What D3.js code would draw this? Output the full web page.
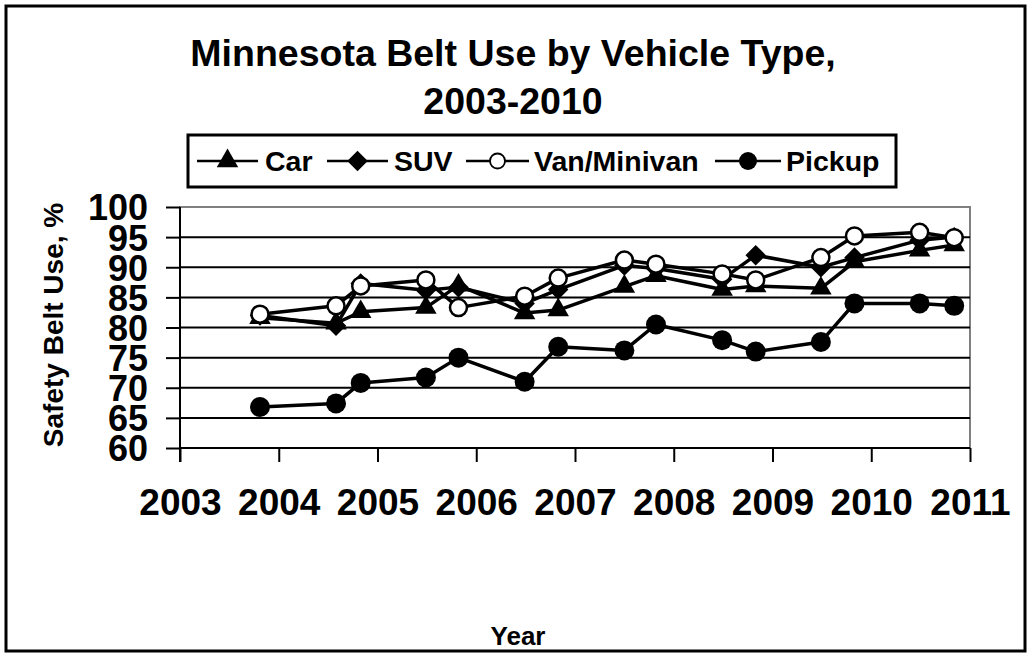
<!DOCTYPE html>
<html>
<head>
<meta charset="utf-8">
<script src="https://cdn.jsdelivr.net/npm/d3@7"></script>
<style>
  body { margin: 0; background: #fff; }
  svg text { font-family: "Liberation Sans", Arial, sans-serif; font-weight: bold; fill: #000; }
</style>
</head>
<body>
<div id="chart"></div>
<script>
// survey dates (decimal years) and belt use by vehicle type
const surveyDates = [2003.81, 2004.58, 2004.83, 2005.49, 2005.82, 2006.49, 2006.83, 2007.5, 2007.82, 2008.49, 2008.83, 2009.49, 2009.83, 2010.49, 2010.84]
const carUse    = [81.6, 80.7, 82.6, 83.3, 87.0, 82.4, 82.9, 86.8, 88.6, 86.3, 86.9, 86.5, 90.9, 92.8, 93.7]
const suvUse    = [82.0, 80.3, 87.3, 86.2, 86.7, 84.0, 86.3, 90.3, 89.8, 88.0, 92.0, 90.0, 91.6, 94.5, 95.0]
const vanUse    = [82.2, 83.6, 86.9, 87.9, 83.3, 85.2, 88.2, 91.2, 90.5, 88.9, 87.9, 91.6, 95.2, 95.8, 94.9]
const pickupUse = [66.8, 67.4, 70.8, 71.7, 75.0, 71.0, 76.8, 76.2, 80.5, 77.9, 76.0, 77.6, 84.0, 84.0, 83.6]
const seriesNames = ["Car", "SUV", "Van/Minivan", "Pickup"]
const xTicks = [2003, 2004, 2005, 2006, 2007, 2008, 2009, 2010, 2011]
const yTicks = [60, 65, 70, 75, 80, 85, 90, 95, 100]

const width = 1030, height = 654
const plot = {left: 180, right: 970, top: 207, bottom: 448}

const svg = d3.select("#chart")
    .append("svg")
    .attr("width", width)
    .attr("height", height)

// outer frame
svg.append("rect")
    .attr("x", 6).attr("y", 6)
    .attr("width", 1019).attr("height", 645)
    .attr("fill", "none")
    .attr("stroke", "#000")
    .attr("stroke-width", 3)

const xScale = d3.scaleLinear().domain([2003, 2011]).range([plot.left, plot.right])
const yScale = d3.scaleLinear().domain([60, 100]).range([plot.bottom, plot.top])

// plot area border (grey)
svg.append("rect")
    .attr("x", plot.left).attr("y", plot.top)
    .attr("width", plot.right - plot.left).attr("height", plot.bottom - plot.top)
    .attr("fill", "none")
    .attr("stroke", "#808080")
    .attr("stroke-width", 2)

// gridlines
svg.append("g")
    .selectAll("line")
    .data(yTicks.filter(d => d > 60 && d < 100))
    .join("line")
    .attr("x1", plot.left).attr("x2", plot.right)
    .attr("y1", d => yScale(d)).attr("y2", d => yScale(d))
    .attr("stroke", "#000")
    .attr("stroke-width", 2)

// axes
const yAxis = svg.append("g")
    .attr("transform", `translate(${plot.left},0)`)
    .call(d3.axisLeft(yScale).tickValues(yTicks).tickSize(14).tickPadding(18).tickFormat(d3.format("d")))
yAxis.select(".domain").attr("d", `M0,${plot.top}V${plot.bottom + 14}`).attr("stroke-width", 2)
yAxis.selectAll(".tick line").attr("stroke-width", 2)
yAxis.selectAll(".tick text").attr("font-size", 36).attr("dy", "0.36em")

const xAxis = svg.append("g")
    .attr("transform", `translate(0,${plot.bottom})`)
    .call(d3.axisBottom(xScale).tickValues(xTicks).tickSize(14).tickPadding(27).tickFormat(d3.format("d")))
xAxis.select(".domain").attr("d", `M${plot.left},0H${plot.right}`).attr("stroke-width", 2)
xAxis.selectAll(".tick line").attr("stroke-width", 2)
xAxis.selectAll(".tick text").attr("font-size", 37)

// axis titles
svg.append("text")
    .attr("transform", "translate(63,325) rotate(-90)")
    .attr("text-anchor", "middle")
    .attr("font-size", 28)
    .text("Safety Belt Use, %")

svg.append("text")
    .attr("x", 518).attr("y", 645)
    .attr("text-anchor", "middle")
    .attr("font-size", 26)
    .text("Year")

// title
svg.append("text")
    .attr("x", 513).attr("y", 66)
    .attr("text-anchor", "middle")
    .attr("font-size", 37.5)
    .text("Minnesota Belt Use by Vehicle Type,")
svg.append("text")
    .attr("x", 513).attr("y", 114)
    .attr("text-anchor", "middle")
    .attr("font-size", 37.5)
    .text("2003-2010")

// marker drawing
function drawMarker(g, kind, small) {
    if (kind === "triangle") {
        g.append("path").attr("d", d3.symbol(d3.symbolTriangle, 200)()).attr("fill", "#000")
    } else if (kind === "diamond") {
        g.append("path").attr("d", d3.symbol(d3.symbolSquare, 210)())
            .attr("transform", "rotate(45)").attr("fill", "#000")
    } else if (kind === "open") {
        g.append("circle").attr("r", small ? 7.5 : 8.5).attr("fill", "#fff")
            .attr("stroke", "#000").attr("stroke-width", small ? 1.8 : 2.5)
    } else {
        g.append("circle").attr("r", small ? 9 : 10).attr("fill", "#000")
    }
}

const series = [
    {name: seriesNames[0], values: carUse, marker: "triangle"},
    {name: seriesNames[1], values: suvUse, marker: "diamond"},
    {name: seriesNames[2], values: vanUse, marker: "open"},
    {name: seriesNames[3], values: pickupUse, marker: "filled"}
]

const line = d3.line()
    .x(d => xScale(d.x))
    .y(d => yScale(d.y))

series.forEach(s => {
    const pts = surveyDates.map((x, i) => ({x: x, y: s.values[i]}))
    const g = svg.append("g")
    g.append("path")
        .datum(pts)
        .attr("d", line)
        .attr("fill", "none")
        .attr("stroke", "#000")
        .attr("stroke-width", 3.5)
        .attr("stroke-linejoin", "round")
    g.selectAll("g.pt")
        .data(pts)
        .join("g")
        .attr("class", "pt")
        .attr("transform", d => `translate(${xScale(d.x)},${yScale(d.y)})`)
        .each(function () { drawMarker(d3.select(this), s.marker, false) })
})

// legend
const legend = svg.append("g")
legend.append("rect")
    .attr("x", 188).attr("y", 135)
    .attr("width", 708).attr("height", 52)
    .attr("fill", "none")
    .attr("stroke", "#000")
    .attr("stroke-width", 3)

const legendPos = [
    {x1: 197, x2: 258, tx: 265},
    {x1: 327, x2: 388, tx: 394},
    {x1: 466, x2: 529, tx: 534},
    {x1: 715, x2: 781, tx: 786}
]
series.forEach((s, i) => {
    const p = legendPos[i]
    legend.append("line")
        .attr("x1", p.x1).attr("x2", p.x2)
        .attr("y1", 161).attr("y2", 161)
        .attr("stroke", "#000").attr("stroke-width", 2.5)
    const m = legend.append("g").attr("transform", `translate(${(p.x1 + p.x2) / 2},161)`)
    drawMarker(m, s.marker, true)
    legend.append("text")
        .attr("x", p.tx).attr("y", 171)
        .attr("font-size", 28.5)
        .text(s.name)
})
</script>
</body>
</html>
